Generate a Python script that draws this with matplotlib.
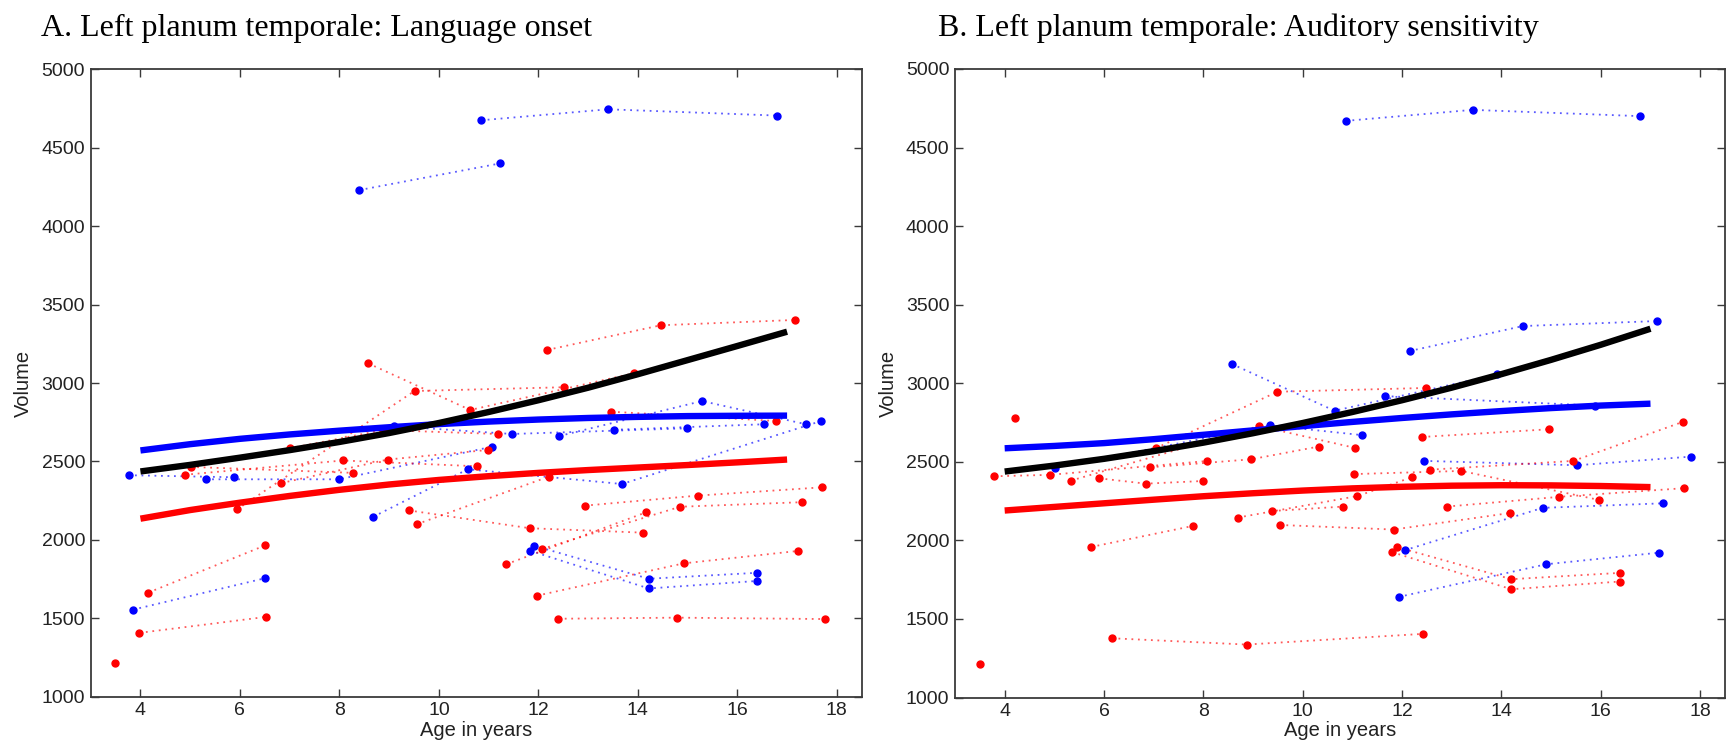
import matplotlib
matplotlib.use("Agg")
import matplotlib.pyplot as plt

# ---------------- data ----------------
# Panel A: Language onset  (each subject: ages, volumes)
A_blue_subjects = [
    ([10.85, 13.4, 16.8], [4675, 4745, 4705]),
    ([8.4, 11.23], [4230, 4400]),
    ([3.85, 6.5], [1555, 1755]),
    ([3.76, 5.89], [2412, 2399]),
    ([5.31, 7.99, 11.07], [2386, 2386, 2594]),
    ([8.68, 10.58, 13.68, 17.69], [2147, 2450, 2356, 2758]),
    ([9.1, 11.47, 14.98], [2725, 2675, 2711]),
    ([12.42, 15.29, 17.38], [2662, 2885, 2737]),
    ([13.53, 16.54], [2702, 2737]),
    ([11.91, 14.22, 16.4], [1963, 1752, 1790]),
    ([11.83, 14.22, 16.4], [1931, 1690, 1738]),
]
A_red_subjects = [
    ([3.48], [1214]),
    ([3.98, 6.53], [1407, 1509]),
    ([4.16, 6.51], [1664, 1965]),
    ([12.4, 14.79, 17.76], [1497, 1504, 1495]),
    ([11.97, 14.92, 17.21], [1644, 1850, 1929]),
    ([11.35, 14.17], [1844, 2176]),
    ([12.93, 15.2, 17.71], [2218, 2282, 2335]),
    ([12.07, 14.85, 17.29], [1942, 2211, 2240]),
    ([9.39, 11.83, 14.1], [2188, 2074, 2046]),
    ([9.55, 12.21], [2099, 2403]),
    ([4.89, 8.07, 10.77], [2415, 2506, 2469]),
    ([6.83, 8.97, 10.98], [2362, 2512, 2573]),
    ([5.01, 8.28], [2465, 2427]),
    ([7.01, 8.88, 11.19], [2584, 2700, 2675]),
    ([8.58, 10.63, 13.92], [3125, 2828, 3062]),
    ([5.94, 9.51, 12.51], [2194, 2949, 2973]),
    ([12.18, 14.46, 17.16], [3211, 3368, 3402]),
    ([13.47, 16.77], [2817, 2758]),
]
A_fit_age = [4, 5, 6, 7, 8, 9, 10, 11, 12, 13, 14, 15, 16, 17]
A_fit_black = [2436, 2478, 2524, 2572, 2624, 2681, 2745, 2815, 2890, 2970, 3056, 3146, 3236, 3327]
A_fit_blue = [2570, 2610, 2644, 2672, 2696, 2718, 2738, 2754, 2767, 2777, 2784, 2789, 2791, 2792]
A_fit_red = [2135, 2190, 2237, 2280, 2319, 2353, 2382, 2406, 2427, 2445, 2461, 2477, 2494, 2512]

# Panel B: Auditory sensitivity
B_blue_subjects = [
    ([10.87, 13.42, 16.79], [4670, 4740, 4700]),
    ([12.15, 14.43, 17.14], [3205, 3364, 3396]),
    ([8.57, 10.64, 13.92], [3123, 2825, 3057]),
    ([5.02, 9.34, 11.19], [2463, 2732, 2670]),
    ([11.66, 15.89], [2918, 2858]),
    ([12.44, 15.52, 17.81], [2506, 2478, 2533]),
    ([12.05, 14.83, 17.26], [1937, 2207, 2236]),
    ([11.93, 14.9, 17.18], [1640, 1848, 1922]),
]
B_red_subjects = [
    ([3.5], [1212]),
    ([4.2], [2781]),
    ([6.16, 8.87, 12.42], [1377, 1337, 1405]),
    ([5.74, 7.79], [1958, 2092]),
    ([8.69, 11.1, 12.2], [2145, 2282, 2402]),
    ([9.54, 11.83, 14.17], [2098, 2069, 2174]),
    ([12.9, 15.16, 17.67], [2215, 2277, 2332]),
    ([11.04, 13.19, 15.97], [2422, 2442, 2257]),
    ([12.57, 15.45, 17.65], [2450, 2506, 2754]),
    ([11.89, 14.2, 16.38], [1958, 1753, 1793]),
    ([11.8, 14.2, 16.38], [1925, 1689, 1738]),
    ([3.79, 4.91, 8.07], [2408, 2417, 2505]),
    ([6.93, 8.96, 10.32], [2465, 2516, 2597]),
    ([5.33, 9.12, 11.06], [2380, 2728, 2588]),
    ([5.9, 6.84, 8.0], [2395, 2361, 2378]),
    ([7.04, 9.49, 12.48], [2586, 2946, 2970]),
    ([12.4, 14.95], [2658, 2707]),
    ([9.39, 10.81], [2187, 2215]),
]
B_fit_age = [4, 5, 6, 7, 8, 9, 10, 11, 12, 13, 14, 15, 16, 17]
B_fit_black = [2438, 2476, 2519, 2568, 2622, 2682, 2747, 2817, 2892, 2972, 3058, 3149, 3245, 3347]
B_fit_blue = [2586, 2601, 2619, 2644, 2672, 2700, 2727, 2754, 2779, 2802, 2823, 2842, 2858, 2870]
B_fit_red = [2190, 2213, 2236, 2259, 2281, 2300, 2317, 2331, 2341, 2348, 2351, 2350, 2346, 2339]

titles = ["A. Left planum temporale: Language onset",
          "B. Left planum temporale: Auditory sensitivity"]
x_ticks = [4, 6, 8, 10, 12, 14, 16, 18]
y_ticks = [1000, 1500, 2000, 2500, 3000, 3500, 4000, 4500, 5000]

# ---------------- drawing ----------------
W, H = 1727, 751
fig = plt.figure(figsize=(W / 100, H / 100), dpi=100)
plt.rcParams['font.family'] = ['Liberation Sans', 'DejaVu Sans']

ax_rects = [
    (90.7 / W, 1 - 696.7 / H, (861.7 - 90.7) / W, (696.7 - 69.3) / H),
    (955.0 / W, 1 - 697.5 / H, (1725.0 - 955.0) / W, (697.5 - 69.0) / H),
]
title_pos = [(41 / W, 1 - 36 / H), (938 / W, 1 - 36 / H)]

panels = [
    (A_blue_subjects, A_red_subjects, A_fit_age, A_fit_black, A_fit_blue, A_fit_red),
    (B_blue_subjects, B_red_subjects, B_fit_age, B_fit_black, B_fit_blue, B_fit_red),
]

dot_style = (0, (1.0, 2.6))
edge = '#3a3a3a'

for i, (blues, reds, fa, fb, fbl, fr) in enumerate(panels):
    ax = fig.add_axes(ax_rects[i])
    for col, subs in (('#0000ff', blues), ('#ff0000', reds)):
        for ages, vols in subs:
            ax.plot(ages, vols, linestyle=dot_style, color=col, lw=1.3, alpha=0.65,
                    zorder=2)
            ax.plot(ages, vols, linestyle='none', marker='o', ms=5.0,
                    color=col, mec=col, zorder=3)
    ax.plot(fa, fr, color='#ff0000', lw=4.6, solid_capstyle='butt',
            solid_joinstyle='round', zorder=4)
    ax.plot(fa, fbl, color='#0000ff', lw=4.6, solid_capstyle='butt',
            solid_joinstyle='round', zorder=5)
    ax.plot(fa, fb, color='#000000', lw=4.6, solid_capstyle='butt',
            solid_joinstyle='round', zorder=6)

    ax.set_xlim(3, 18.5)
    ax.set_ylim(1000, 5000)
    ax.set_xticks(x_ticks)
    ax.set_yticks(y_ticks)
    ax.tick_params(direction='in', top=True, right=True, length=6, width=1,
                   colors=edge, labelcolor='#222222', labelsize=14, pad=4)
    for s in ax.spines.values():
        s.set_color(edge)
        s.set_linewidth(1.3)
    ax.set_xlabel("Age in years", fontsize=14.5, color='#222222', labelpad=1)
    ax.set_ylabel("Volume", fontsize=14.5, color='#222222', labelpad=6)

    fig.text(title_pos[i][0], title_pos[i][1], titles[i],
             family=['Liberation Serif', 'DejaVu Serif'], fontsize=23,
             color='#000000', ha='left', va='baseline')

fig.savefig("out.png", dpi=100, facecolor='white')
